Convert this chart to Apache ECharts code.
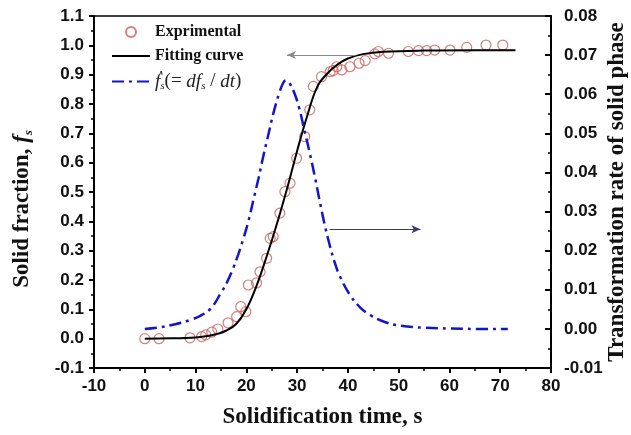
<!DOCTYPE html>
<html><head><meta charset="utf-8">
<script src="https://cdn.jsdelivr.net/npm/echarts@6/dist/echarts.min.js"></script>
<style>html,body{margin:0;padding:0;background:#fff}#c{width:631px;height:435px}</style>
</head><body><div id="c"></div>
<script>
// Experimental points (time s, solid fraction)
const expT = [0, 2.8, 8.9, 11.2, 12.0, 13.2, 14.4, 16.4, 18.1, 18.9, 19.9, 20.4, 22.0, 22.7, 24.0, 24.7, 25.3, 26.6, 27.6, 28.6, 29.9, 31.5, 32.5, 33.2, 34.8, 36.5, 37.1, 37.8, 38.8, 40.4, 42.2, 43.4, 45.3, 46.0, 48.0, 51.9, 53.9, 55.5, 57.1, 60.1, 63.4, 67.2, 70.5];
const expF = [0, 0, 0.003, 0.007, 0.013, 0.022, 0.033, 0.054, 0.075, 0.109, 0.092, 0.183, 0.19, 0.228, 0.274, 0.342, 0.348, 0.428, 0.501, 0.53, 0.615, 0.689, 0.78, 0.86, 0.893, 0.91, 0.914, 0.927, 0.916, 0.927, 0.939, 0.948, 0.971, 0.979, 0.973, 0.979, 0.982, 0.982, 0.984, 0.984, 0.993, 1.001, 1.001];
// Fitting curve
const fitT = [0, 5, 10, 12, 14, 16, 18, 20, 22, 24, 26, 28, 30, 32, 34, 36, 38, 40, 43, 47, 55, 65, 73];
const fitF = [0, 0.001, 0.004, 0.008, 0.015, 0.027, 0.05, 0.1, 0.18, 0.28, 0.39, 0.51, 0.64, 0.76, 0.86, 0.905, 0.935, 0.955, 0.97, 0.978, 0.982, 0.983, 0.983];
// Transformation rate (right axis)
const rateT = [0, 3, 6, 9, 11, 13, 15, 16.3, 17.4, 18.4, 19.4, 20.4, 21.4, 22.4, 23.4, 24.4, 25.4, 26.4, 27.3, 27.8, 28.4, 29.4, 30.4, 31.4, 32.4, 33.4, 34.4, 35.4, 36.4, 37.4, 38.4, 40.4, 42.4, 44.4, 47.4, 50.4, 55, 60, 65, 71.5];
const rateV = [0, 0.0004, 0.0012, 0.0023, 0.0034, 0.0052, 0.0092, 0.0122, 0.0155, 0.019, 0.023, 0.0275, 0.033, 0.0385, 0.0445, 0.05, 0.0555, 0.06, 0.063, 0.0635, 0.063, 0.0605, 0.0565, 0.051, 0.0455, 0.0395, 0.033, 0.0268, 0.0215, 0.017, 0.0135, 0.0087, 0.0055, 0.0035, 0.0017, 0.0008, 0.0003, 0.0001, 0, 0];

const serif = '"Liberation Serif","Times New Roman",serif';
const sans = '"Liberation Sans",Arial,sans-serif';
const zip = (a, b) => a.map((v, i) => [v, b[i]]);

const chart = echarts.init(document.getElementById('c'), null, {renderer: 'canvas'});
chart.setOption({
  animation: false,
  backgroundColor: '#fff',
  grid: {left: 94, right: 80, top: 16, bottom: 67, show: true, borderColor: '#000', borderWidth: 1.5,
    containLabel: false, outerBoundsMode: 'none'},
  legend: {
    left: 111, top: 24, padding: 0, orient: 'vertical', itemWidth: 38, itemHeight: 10, itemGap: 8,
    data: [
      {name: 'Exprimental'},
      {name: 'Fitting curve', itemStyle: {opacity: 0}},
      {name: 'rate', itemStyle: {opacity: 0}}
    ],
    textStyle: {fontFamily: serif, fontWeight: 'bold', fontSize: 16, color: '#111',
      rich: {
        f: {fontFamily: serif, fontWeight: 'normal', fontStyle: 'italic', fontSize: 19, color: '#222'},
        s: {fontFamily: serif, fontWeight: 'normal', fontStyle: 'italic', fontSize: 11, color: '#222', padding: [9, 0, 0, 0]},
        n: {fontFamily: serif, fontWeight: 'normal', fontSize: 19, color: '#222'}
      }},
    formatter: function (n) {
      if (n === 'rate') return '{f|\u1E1F}{s|s}{n|(= }{f|df}{s|s}{n| / }{f|dt}{n|)}';
      return n;
    }
  },
  xAxis: {
    type: 'value', min: -10, max: 80, interval: 10,
    name: 'Solidification time, s', nameLocation: 'middle', nameGap: 38,
    nameTextStyle: {fontFamily: serif, fontWeight: 'bold', fontSize: 23, color: '#111'},
    axisLine: {onZero: false, lineStyle: {color: '#000', width: 2}},
    axisTick: {inside: false, length: 5, lineStyle: {color: '#000', width: 2}},
    minorTick: {show: true, splitNumber: 2, length: 3, lineStyle: {color: '#000', width: 1.5}},
    axisLabel: {fontFamily: sans, fontWeight: 'bold', fontSize: 17, color: '#111', margin: 10},
    splitLine: {show: false}
  },
  yAxis: [{
    type: 'value', min: -0.1, max: 1.1, interval: 0.1,
    name: '{a|Solid fraction, }{i|f}{s|s}', nameLocation: 'middle', nameGap: 59, nameRotate: 90,
    nameTextStyle: {padding: [0, 34, 0, 0], rich: {
      a: {fontFamily: serif, fontWeight: 'bold', fontSize: 23, color: '#111'},
      i: {fontFamily: serif, fontWeight: 'bold', fontStyle: 'italic', fontSize: 23, color: '#111'},
      s: {fontFamily: serif, fontWeight: 'bold', fontStyle: 'italic', fontSize: 13, color: '#111', padding: [12, 0, 0, 0]}
    }},
    axisLine: {onZero: false, lineStyle: {color: '#000', width: 2}},
    axisTick: {inside: false, length: 5, lineStyle: {color: '#000', width: 2}},
    minorTick: {show: true, splitNumber: 2, length: 3, lineStyle: {color: '#000', width: 1.5}},
    axisLabel: {fontFamily: sans, fontWeight: 'bold', fontSize: 17, color: '#111', margin: 10,
      formatter: v => v.toFixed(1)},
    splitLine: {show: false}
  }, {
    type: 'value', min: -0.01, max: 0.08, interval: 0.01, position: 'right',
    name: 'Transformation rate of solid phase', nameLocation: 'middle', nameGap: 55, nameRotate: 90,
    nameMoveOverlap: false,
    nameTextStyle: {fontFamily: serif, fontWeight: 'bold', fontSize: 23, color: '#111'},
    axisLine: {show: true, onZero: false, lineStyle: {color: '#000', width: 2}},
    axisTick: {inside: true, length: 6, lineStyle: {color: '#000', width: 2}},
    minorTick: {show: true, splitNumber: 2, length: 3, lineStyle: {color: '#000', width: 1.5}},
    axisLabel: {fontFamily: sans, fontWeight: 'bold', fontSize: 17, color: '#111', margin: 13,
      formatter: v => v.toFixed(2)},
    splitLine: {show: false}
  }],
  series: [{
    name: 'Exprimental', type: 'scatter', data: zip(expT, expF),
    symbol: 'circle', symbolSize: 10,
    itemStyle: {color: 'rgba(255,255,255,0)', borderColor: '#c9605c', borderWidth: 1.2}
  }, {
    name: 'Fitting curve', type: 'line', data: zip(fitT, fitF), smooth: 0.4,
    showSymbol: false, symbol: 'none', z: 3,
    lineStyle: {color: '#000', width: 2},
    itemStyle: {color: '#000'},
    markLine: {silent: true, symbol: ['none', 'arrow'], symbolSize: [6, 9],
      label: {show: false},
      lineStyle: {color: '#8a8a8a', width: 1, type: 'solid'},
      data: [[{coord: [41.5, 0.967]}, {coord: [28, 0.967]}]]}
  }, {
    name: 'rate', type: 'line', yAxisIndex: 1, data: zip(rateT, rateV), smooth: 0.4,
    showSymbol: false, symbol: 'none',
    lineStyle: {color: '#1414c8', width: 2.5, type: [12, 5, 3, 5]},
    itemStyle: {color: '#1414c8'},
    markLine: {silent: true, symbol: ['none', 'arrow'], symbolSize: [6, 9],
      label: {show: false},
      lineStyle: {color: '#3a3a70', width: 1.2, type: 'solid'},
      data: [[{coord: [36.4, 0.0255]}, {coord: [54.3, 0.0255]}]]}
  }]
});
</script></body></html>
